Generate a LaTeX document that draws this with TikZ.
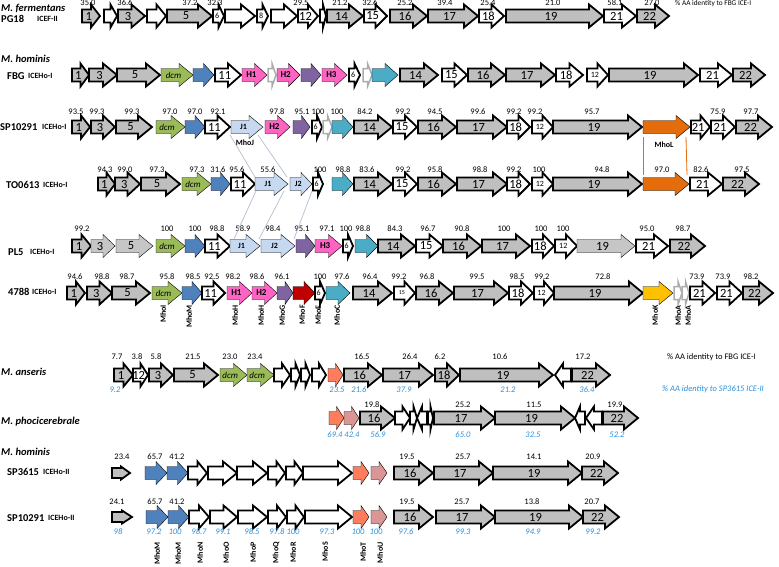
\documentclass[tikz,border=0pt]{standalone}
\usepackage{fontspec}
\setmainfont{Carlito}
\usetikzlibrary{positioning}
\definecolor{geneGray}{HTML}{BFBFBF}
\definecolor{geneLight}{HTML}{C6C6C6}
\definecolor{dcmGreen}{HTML}{9BBB59}
\definecolor{mhoBlue}{HTML}{4F81BD}
\definecolor{hPink}{HTML}{FF63C3}
\definecolor{gPurple}{HTML}{8064A2}
\definecolor{cCyan}{HTML}{4BACC6}
\definecolor{jBlue}{HTML}{C6D9F1}
\definecolor{lOrange}{HTML}{E46C0A}
\definecolor{fRed}{HTML}{C00000}
\definecolor{kYellow}{HTML}{FFC000}
\definecolor{tSalmon}{HTML}{FF7C5C}
\definecolor{uPink}{HTML}{D99694}
\definecolor{idBlue}{HTML}{2B8FDB}

\newcommand{\ry}{0}
\newcommand{\hh}{11.5}
\newcommand{\bh}{6.5}
\newcommand{\labS}{\fontsize{8}{8}\selectfont}
\newcommand{\labT}{\fontsize{6}{6}\selectfont}
\newcommand{\labH}{\bfseries\fontsize{9}{9}\selectfont}
\newcommand{\labJ}{\bfseries\fontsize{8}{8}\selectfont}
\newcommand{\labD}{\itshape\fontsize{9}{9}\selectfont}
% gene arrow: [style]{from}{to}{label}{name}
\newcommand{\gene}[5][ggene]{%
  \pgfmathsetmacro\gLen{#3-(#2)}%
  \pgfmathsetmacro\gHd{min(14,0.5*abs(\gLen))*sign(\gLen)}%
  \pgfmathsetmacro\gMid{(#2+#3)/2-\gHd/4}%
  \tikzset{gcur/.style/.expanded={#1}}%
  \draw[gcur] (#2,\ry-\bh) -- (#3-\gHd,\ry-\bh) -- (#3-\gHd,\ry-\hh) -- (#3,\ry)
    -- (#3-\gHd,\ry+\hh) -- (#3-\gHd,\ry+\bh) -- (#2,\ry+\bh) -- cycle;
  \node[glab] (#5) at (\gMid,\ry) {#4};%
}

\begin{document}
\begin{tikzpicture}[
  x=1pt, y=-1pt,
  outl/.style={draw=black, line width=1.8pt, line join=miter},
  ggene/.style={outl, fill=geneGray},
  wgene/.style={outl, fill=white},
  lgene/.style={fill=geneLight},
  ngray/.style={draw=gray!65, line width=1.5pt, fill=white},
  dcm/.style={fill=dcmGreen},
  mblue/.style={fill=mhoBlue},
  hpink/.style={fill=hPink},
  gpurple/.style={fill=gPurple},
  ccyan/.style={fill=cCyan},
  jblue/.style={fill=jBlue},
  lorange/.style={fill=lOrange},
  fred/.style={fill=fRed},
  kyellow/.style={fill=kYellow},
  tsalmon/.style={fill=tSalmon},
  upink/.style={fill=uPink},
  glab/.style={font=\fontsize{12.5}{12.5}\selectfont, inner sep=0pt},
  num/.style={font=\fontsize{8.5}{8.5}\selectfont, inner sep=0pt},
  bnum/.style={num, font=\fontsize{8.5}{8.5}\selectfont\itshape, text=idBlue},
  vlab/.style={font=\bfseries\fontsize{8}{8}\selectfont, rotate=90, anchor=east, inner sep=0pt},
  species/.style={font=\bfseries\itshape\fontsize{10.5}{10.5}\selectfont, anchor=west, inner sep=0pt},
  strain/.style={font=\bfseries\fontsize{10.5}{10.5}\selectfont, anchor=west, inner sep=0pt},
  ice/.style={font=\bfseries\fontsize{8}{8}\selectfont, anchor=west, inner sep=0pt},
  jline/.style={draw=jBlue!85!black!90, line width=0.7pt},
  oline/.style={draw=lOrange, line width=0.8pt}
]
\useasboundingbox (0,0) rectangle (779,566);

% row labels
\node[species] (fer) at (1,8) {M. fermentans};
\node[strain] (pg18) at (1,19) {PG18};
\node[ice] (pg18i) at (37,19) {ICEF-II};
\node[species] (hom1) at (1,59) {M. hominis};
\node[strain] (fbg) at (7,76) {FBG};
\node[ice] (fbgi) at (28,76) {ICEHo-I};
\node[strain] (sp1) at (0,127) {SP10291};
\node[ice] (sp1i) at (42,127) {ICEHo-I};
\node[strain] (to) at (6,185) {TO0613};
\node[ice] (toi) at (43,185) {ICEHo-I};
\node[strain] (pl5) at (8,252) {PL5};
\node[ice] (pl5i) at (30,252) {ICEHo-I};
\node[strain] (s4788) at (8,292) {4788};
\node[ice] (s4788i) at (32,292) {ICEHo-I};
\node[species] (ans) at (1,372) {M. anseris};
\node[species] (pho) at (1,422) {M. phocicerebrale};
\node[species] (hom2) at (1,452) {M. hominis};
\node[strain] (sp36) at (7,472) {SP3615};
\node[ice] (sp36i) at (43,472) {ICEHo-II};
\node[strain] (sp2) at (7,518) {SP10291};
\node[ice] (sp2i) at (48,518) {ICEHo-II};

% legends
\node[num, anchor=west, font=\fontsize{7.3}{7.3}\selectfont] (leg1) at (675,4) {\% AA identity to FBG ICE-I};
\node[num, anchor=west] (leg2) at (667,357) {\% AA identity to FBG ICE-I};
\node[bnum, anchor=west] (leg3) at (662,389) {\% AA identity to SP3615 ICE-II};

% PG18 ICEF-II
\renewcommand{\ry}{16}
\foreach \a/\b/\s/\l [count=\i] in {82/100/ggene/1, 104/117/wgene/, 118/145/ggene/3, 147/166/wgene/, 167/212/ggene/5,
  213/224/wgene/{\labS 6}, 225/255/wgene/, 257/268/wgene/{\labS 8}, 271/297/wgene/, 298/318/wgene/12, 320/326/wgene/,
  327/363/ggene/14, 364/387/wgene/15, 390/427/ggene/16, 428/478/ggene/17, 479/504/wgene/18, 506/603/ggene/19,
  604/636/wgene/21, 637/669/ggene/22}
  {\gene[\s]{\a}{\b}{\l}{pg\i}}
\foreach \x/\t [count=\i] in {88/35.0, 125/36.6, 190/37.2, 215/32.3, 301/29.5, 340/21.2, 370/32.6, 405/25.2,
  445/39.4, 488/25.4, 553/21.0, 615/58.1, 652/27.0}
  {\node[num] (pgn\i) at (\x,3) {\t};}

% FBG ICEHo-I
\renewcommand{\ry}{75}
\foreach \a/\b/\s/\l [count=\i] in {72/89/ggene/1, 89/117/ggene/3, 117/160/ggene/5, 161/193/dcm/{\labD dcm},
  193/214/mblue/, 215/241/wgene/11, 242/267/hpink/{\labH H1}, 268/276/ngray/, 277/300/hpink/{\labH H2},
  301/321/gpurple/, 322/347/hpink/{\labH H3}, 349/360/wgene/{\labS 6}, 363/372/ngray/, 372/398/ccyan/,
  400/438/ggene/14, 442/467/wgene/15, 468/505/ggene/16, 506/555/ggene/17, 556/583/wgene/18,
  587/608/wgene/{\labS 12}, 609/698/ggene/19, 700/732/wgene/21, 733/765/ggene/22}
  {\gene[\s]{\a}{\b}{\l}{fbg\i}}

% SP10291 ICEHo-I
\renewcommand{\ry}{127}
\foreach \a/\b/\s/\l [count=\i] in {72/90/ggene/1, 91/115/ggene/3, 116/152/ggene/5, 156/185/dcm/{\labD dcm},
  185/205/mblue/, 205/230/wgene/11, 231/263/jblue/{\labJ J1}, 265/290/hpink/{\labH H2}, 293/310/gpurple/,
  312/322/wgene/{\labS 6}, 323/332/ngray/, 332/353/ccyan/, 354/392/ggene/14, 393/417/wgene/15,
  418/456/ggene/16, 457/507/ggene/17, 507/530/wgene/18, 532/553/wgene/{\labS 12}, 553/642/ggene/19,
  643/690/lorange/, 691/710/wgene/21, 711/735/wgene/21, 736/772/ggene/22}
  {\gene[\s]{\a}{\b}{\l}{spa\i}}
\foreach \x/\t [count=\i] in {76/93.5, 97/99.3, 132/99.3, 170/97.0, 195/97.0, 218/92.1, 277/97.8, 302/95.1,
  318/100, 337/100, 365/84.2, 403/99.2, 435/94.5, 478/99.6, 514/99.2, 535/99.2, 592/95.7, 718/75.9, 751/97.7}
  {\node[num] (span\i) at (\x,112) {\t};}
\node[font=\bfseries\fontsize{8}{8}\selectfont, inner sep=0pt] (mhoj) at (245,143) {MhoJ};
\node[font=\bfseries\fontsize{8}{8}\selectfont, inner sep=0pt] (mhol) at (664,145) {MhoL};

% TO0613 ICEHo-I
\renewcommand{\ry}{184}
\foreach \a/\b/\s/\l [count=\i] in {98/115/ggene/1, 115/140/ggene/3, 141/180/ggene/5, 182/211/dcm/{\labD dcm},
  211/230/mblue/, 231/255/wgene/11, 255/288/jblue/{\labJ J1}, 290/312/jblue/{\labJ J2}, 313/323/wgene/{\labS 6},
  332/353/ccyan/, 354/392/ggene/14, 393/417/wgene/15, 418/456/ggene/16, 457/507/ggene/17, 507/530/wgene/18,
  532/553/wgene/{\labS 12}, 553/642/ggene/19, 643/689/lorange/, 690/722/wgene/21, 723/759/ggene/22}
  {\gene[\s]{\a}{\b}{\l}{to\i}}
\foreach \x/\t [count=\i] in {105/94.3, 125/99.0, 157/97.3, 197/97.3, 218/31.6, 237/95.6, 268/55.6, 320/100,
  343/98.8, 367/83.6, 403/99.2, 435/95.8, 480/98.8, 514/99.2, 539/100, 602/94.8, 662/97.0, 701/82.6, 742/97.5}
  {\node[num] (ton\i) at (\x,170) {\t};}

% PL5 ICEHo-I
\renewcommand{\ry}{246}
\foreach \a/\b/\s/\l [count=\i] in {72/91/ggene/1, 91/115/lgene/3, 116/153/lgene/5, 156/185/dcm/{\labD dcm},
  185/205/mblue/, 205/230/wgene/11, 230/260/jblue/{\labJ J1}, 261/295/jblue/{\labJ J2}, 296/315/gpurple/,
  315/342/hpink/{\labH H3}, 343/353/wgene/{\labS 6}, 355/378/ccyan/, 378/415/ggene/14, 416/443/wgene/15,
  443/481/ggene/16, 482/530/ggene/17, 532/554/wgene/18, 555/577/wgene/{\labS 12}, 577/635/lgene/19,
  636/668/wgene/21, 670/705/ggene/22}
  {\gene[\s]{\a}{\b}{\l}{pl\i}}
\foreach \x/\t [count=\i] in {82/99.2, 167/100, 195/100, 217/98.8, 243/58.9, 273/98.4, 302/95.1, 327/97.1,
  346/100, 363/98.8, 395/84.3, 428/96.7, 462/90.8, 504/100, 541/100, 563/100, 647/95.0, 683/98.7}
  {\node[num] (pln\i) at (\x,229) {\t};}

% 4788 ICEHo-I
\renewcommand{\ry}{293}
\foreach \a/\b/\s/\l [count=\i] in {67/85/ggene/1, 87/112/ggene/3, 112/150/ggene/5, 152/182/dcm/{\labD dcm},
  182/202/mblue/, 202/225/wgene/11, 227/252/hpink/{\labH H1}, 252/277/hpink/{\labH H2}, 277/293/gpurple/,
  293/315/fred/, 315/325/wgene/{\labS 6}, 326/350/ccyan/, 353/392/ggene/14, 394/415/wgene/{\labT 15},
  416/453/ggene/16, 454/508/ggene/17, 509/533/wgene/18, 534/554/wgene/{\labS 12}, 554/643/ggene/19,
  643/673/kyellow/, 674/682/ngray/, 682/689/ngray/, 690/715/wgene/21, 717/742/wgene/21, 743/773/ggene/22}
  {\gene[\s]{\a}{\b}{\l}{ic\i}}
\foreach \x/\t [count=\i] in {75/94.6, 102/98.8, 127/98.7, 167/95.8, 193/98.5, 212/92.5, 233/98.2, 257/98.6,
  282/96.1, 320/100, 342/97.6, 370/96.4, 399/99.2, 427/96.8, 477/99.5, 517/98.5, 542/99.2, 603/72.8,
  697/73.9, 723/73.9, 751/98.2}
  {\node[num] (icn\i) at (\x,277) {\t};}
\foreach \x/\t [count=\i] in {163/MhoI, 189/MhoM, 235/MhoH, 261/MhoH, 282/MhoG, 302/MhoF, 318/MhoE, 337/MhoC,
  655/MhoK, 678/MhoA, 688/MhoA}
  {\node[vlab] (icv\i) at (\x,305) {\t};}

% M. anseris
\renewcommand{\ry}{375}
\foreach \a/\b/\s/\l [count=\i] in {114/133/ggene/1, 133/148/wgene/12, 149/173/ggene/3, 174/218/ggene/5,
  220/247/dcm/{\labD dcm}, 247/274/dcm/{\labD dcm}, 274/290/wgene/, 291/300/wgene/, 301/310/wgene/,
  312/326/wgene/, 328/343/tsalmon/, 344/382/ggene/16, 383/433/ggene/17, 435/459/ggene/18, 460/553/ggene/19,
  571/555/wgene/, 572/610/ggene/22}
  {\gene[\s]{\a}{\b}{\l}{an\i}}
\foreach \x/\t [count=\i] in {117/7.7, 137/3.8, 156/5.8, 193/21.5, 230/23.0, 255/23.4, 362/16.5, 410/26.4,
  440/6.2, 500/10.6, 583/17.2}
  {\node[num] (ann\i) at (\x,357) {\t};}
\foreach \x/\t [count=\i] in {115/9.2, 337/23.5, 359/21.6, 404/37.9, 508/21.2, 587/36.4}
  {\node[bnum] (anb\i) at (\x,390) {\t};}

% M. phocicerebrale
\renewcommand{\ry}{418}
\foreach \a/\b/\s/\l [count=\i] in {329/344/tsalmon/, 344/359/upink/, 360/395/ggene/16, 395/410/wgene/,
  410/417/wgene/, 427/417/wgene/, 428/433/wgene/, 434/495/ggene/17, 495/575/ggene/19, 585/575/wgene/,
  602/586/wgene/, 603/638/ggene/22}
  {\gene[\s]{\a}{\b}{\l}{ph\i}}
\foreach \x/\t [count=\i] in {372/19.8, 463/25.2, 534/11.5, 615/19.9}
  {\node[num] (phn\i) at (\x,405) {\t};}
\foreach \x/\t [count=\i] in {335/69.4, 352/42.4, 378/56.9, 463/65.0, 533/32.5, 617/52.2}
  {\node[bnum] (phb\i) at (\x,435) {\t};}

% SP3615 ICEHo-II
\renewcommand{\ry}{473}
\begin{scope}
  \renewcommand{\hh}{6.5}\renewcommand{\bh}{5}
  \gene[ggene]{112}{130}{}{sb0}
\end{scope}
\foreach \a/\b/\s/\l [count=\i] in {145/167/mblue/, 167/188/mblue/, 188/207/wgene/, 208/237/wgene/,
  237/267/wgene/, 268/285/wgene/, 286/303/wgene/, 303/352/wgene/, 353/369/tsalmon/, 371/387/upink/,
  394/433/ggene/16, 434/493/ggene/17, 493/582/ggene/19, 582/618/ggene/22}
  {\gene[\s]{\a}{\b}{\l}{sb\i}}
\foreach \x/\t [count=\i] in {122/23.4, 155/65.7, 177/41.2, 407/19.5, 463/25.7, 534/14.1, 593/20.9}
  {\node[num] (sbn\i) at (\x,457) {\t};}

% SP10291 ICEHo-II
\renewcommand{\ry}{517}
\begin{scope}
  \renewcommand{\hh}{6.5}\renewcommand{\bh}{5}
  \gene[ggene]{112}{132}{}{sc0}
\end{scope}
\foreach \a/\b/\s/\l [count=\i] in {146/168/mblue/, 168/189/mblue/, 189/209/wgene/, 210/237/wgene/,
  238/267/wgene/, 268/286/wgene/, 287/304/wgene/, 305/352/wgene/, 353/369/tsalmon/, 371/387/upink/,
  394/433/ggene/16, 436/495/ggene/17, 495/583/ggene/19, 583/619/ggene/22}
  {\gene[\s]{\a}{\b}{\l}{sc\i}}
\foreach \x/\t [count=\i] in {117/24.1, 155/65.7, 177/41.2, 407/19.5, 462/25.7, 532/13.8, 592/20.7}
  {\node[num] (scn\i) at (\x,502) {\t};}
\foreach \x/\t [count=\i] in {118/98, 154/97.2, 175/100, 199/98.7, 223/99.1, 252/98.5, 277/97.8, 293/100,
  327/97.3, 358/100, 376/100, 406/97.6, 463/99.3, 533/94.9, 593/99.2}
  {\node[bnum] (scb\i) at (\x,532) {\t};}
\foreach \x/\t [count=\i] in {157/MhoM, 178/MhoM, 200/MhoN, 226/MhoO, 253/MhoP, 276/MhoQ, 293/MhoR, 325/MhoS,
  363/MhoT, 380/MhoU}
  {\node[vlab] (scv\i) at (\x,542) {\t};}

% links between homologous genes
\coordinate (ja1) at (230,135); \coordinate (ja2) at (258,135);
\coordinate (jb1) at (255,177); \coordinate (jb2) at (287,177);
\coordinate (jc1) at (256,191); \coordinate (jc2) at (284,191); \coordinate (jc3) at (312,191);
\coordinate (jd1) at (234,239); \coordinate (jd2) at (259,239); \coordinate (jd3) at (294,239);
\draw[jline] (ja1) -- (jb1);
\draw[jline] (ja2) -- (jb2);
\foreach \k in {1,2,3}
  \draw[jline] (jc\k) -- (jd\k);
\coordinate (la1) at (643,137); \coordinate (la2) at (686,137);
\coordinate (lb1) at (643,175); \coordinate (lb2) at (687,175);
\draw[oline] (la1) -- (lb1);
\draw[oline] (la2) -- (lb2);
\end{tikzpicture}
\end{document}
